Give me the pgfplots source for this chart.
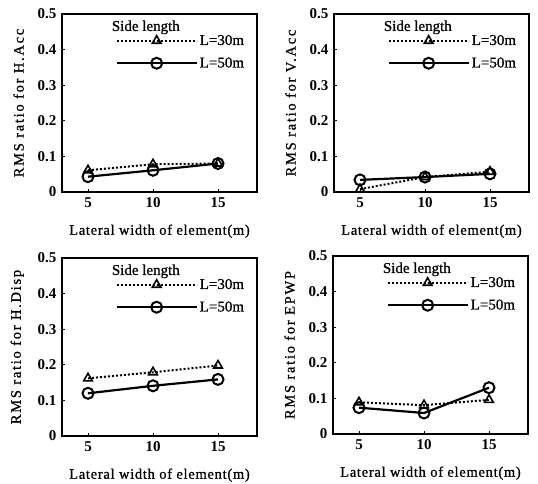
\documentclass[border=0pt]{standalone}
\usepackage{fontspec}
\setmainfont{Liberation Serif}
\newfontfamily\lbl[LetterSpace=5,FakeBold=0.8]{Liberation Serif}
\newfontfamily\ylbl[LetterSpace=12,FakeBold=0.8]{Liberation Serif}
\newfontfamily\lgd[FakeBold=0.8]{Liberation Serif}
\usepackage{pgfplots}
\pgfplotsset{compat=1.18}
\pgfplotsset{
  rms/.style={
    scale only axis, width=195pt, height=178pt,
    xmin=3, xmax=18, ymin=0, ymax=0.5,
    xtick={5,10,15}, ytick={0,0.1,0.2,0.3,0.4,0.5},
    yticklabels={\textbf{0},\textbf{0.1},\textbf{0.2},\textbf{0.3},\textbf{0.4},\textbf{0.5}},
    xticklabels={\textbf{5},\textbf{10},\textbf{15}},
    tick align=inside, major tick length=3pt,
    xtick pos=bottom, ytick pos=left,
    axis line style={line width=1.3pt},
    every tick/.style={line width=1pt, black},
    tick label style={font=\fontsize{15}{15}\selectfont},
    yticklabel style={xshift=-2pt},
    xticklabel style={yshift=-2pt},
    xlabel style={font=\lbl\fontsize{14.5}{15}\selectfont, yshift=-10pt},
    ylabel style={font=\ylbl\fontsize{14.5}{15}\selectfont, yshift=7pt},
    xlabel={Lateral width of element(m)},
    legend style={draw=none, fill=none, at={(axis description cs:0.95,0.9)}, anchor=north east,
      font=\lgd\fontsize{15}{15}\selectfont, row sep=7pt, inner sep=1pt,
      /tikz/every even column/.append style={column sep=7pt}},
    legend cell align=left,
    legend image code/.code={\draw[mark repeat=2,mark phase=2,##1] plot coordinates {(0pt,0pt) (40pt,0pt) (80pt,0pt)};},
  },
  l30/.style={line width=2pt, dotted, mark=triangle, mark size=5pt, mark options={solid, fill=white, line width=1.6pt}},
  l50/.style={line width=2.2pt, solid, mark=o, mark size=5.5pt, mark options={fill=white, line width=2pt}},
}
\newcommand{\sidelen}{\node[font=\lgd\fontsize{15}{15}\selectfont] at (axis description cs:0.43,0.925) {Side length};}
\begin{document}
\begin{tikzpicture}
\path[use as bounding box] (0,0) rectangle (538pt,483pt);
% Panel 1
\begin{axis}[rms, at={(62pt,291pt)}, ylabel={RMS ratio for H.Acc}]
\addplot[l30] coordinates {(5,0.061) (10,0.078) (15,0.080)};
\addplot[l50] coordinates {(5,0.043) (10,0.061) (15,0.080)};
\legend{L=30m, L=50m}
\sidelen
\end{axis}
% Panel 2
\begin{axis}[rms, at={(334pt,291pt)}, ylabel={RMS ratio for V.Acc}]
\addplot[l30] coordinates {(5,0.008) (10,0.042) (15,0.057)};
\addplot[l50] coordinates {(5,0.034) (10,0.042) (15,0.051)};
\legend{L=30m, L=50m}
\sidelen
\end{axis}
% Panel 3
\begin{axis}[rms, at={(62pt,47pt)}, ylabel={RMS ratio for H.Disp}]
\addplot[l30] coordinates {(5,0.162) (10,0.179) (15,0.198)};
\addplot[l50] coordinates {(5,0.120) (10,0.141) (15,0.159)};
\legend{L=30m, L=50m}
\sidelen
\end{axis}
% Panel 4
\begin{axis}[rms, at={(333pt,49pt)}, ylabel={RMS ratio for EPWP}]
\addplot[l30] coordinates {(5,0.089) (10,0.081) (15,0.096)};
\addplot[l50] coordinates {(5,0.074) (10,0.059) (15,0.130)};
\legend{L=30m, L=50m}
\sidelen
\end{axis}
\end{tikzpicture}
\end{document}
